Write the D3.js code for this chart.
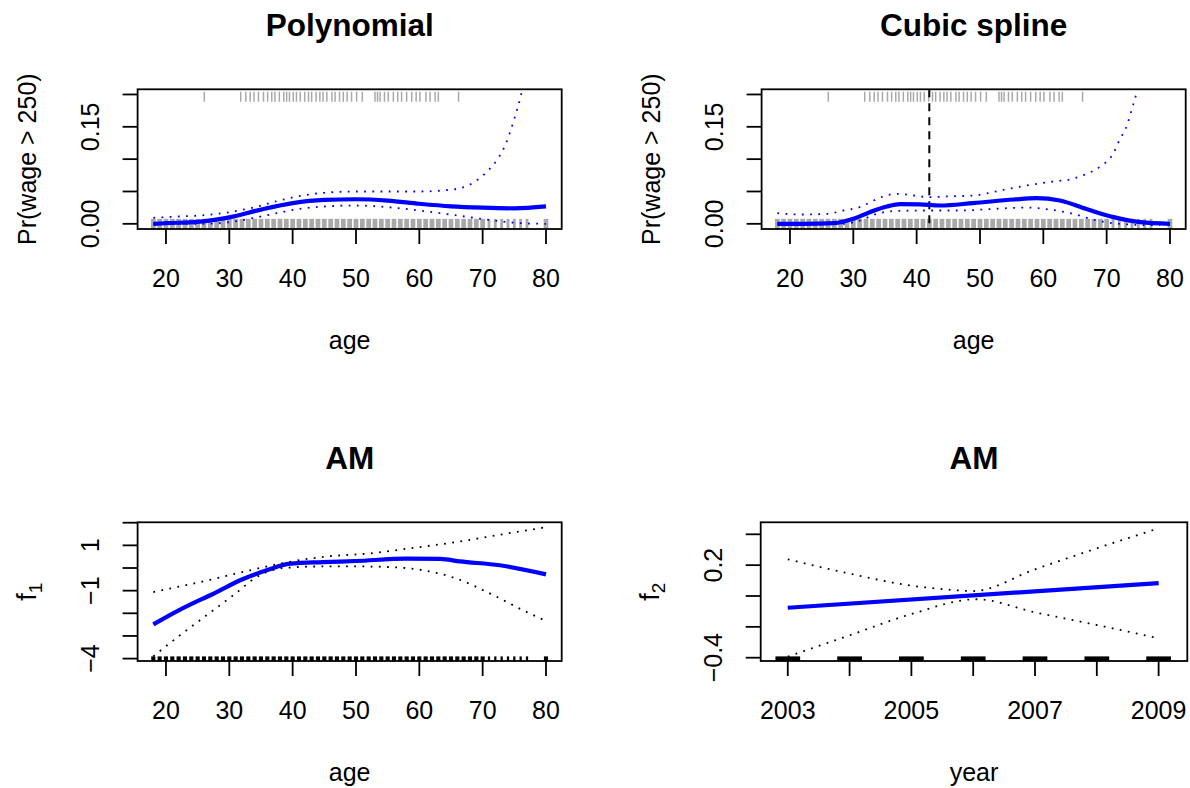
<!DOCTYPE html>
<html>
<head>
<meta charset="utf-8">
<script src="https://cdn.jsdelivr.net/npm/d3@7"></script>
<style>
  body { margin: 0; background: #fff; }
  svg text { font-family: "Liberation Sans", Arial, Helvetica, sans-serif; fill: #000; }
</style>
</head>
<body>
<div id="chart"></div>
<script>
// ---- data ----
// polynomial logistic fit, Pr(wage > 250)
const polyAge = [18, 20, 25, 30, 35, 40, 45, 50, 55, 60, 65, 70, 75, 80];
const polyFit = [0.000, 0.001, 0.003, 0.010, 0.022, 0.032, 0.037, 0.038, 0.036, 0.031, 0.027, 0.025, 0.024, 0.027];
const polyUpAge = [18, 22, 26, 30, 34, 37.5, 41, 45, 50, 55, 60, 64.8, 67, 68.5, 70.4, 72.2, 73.5, 74.8, 75.6, 76.2, 77, 78];
const polyUp = [0.0093, 0.0113, 0.0133, 0.018, 0.0257, 0.035, 0.0428, 0.048, 0.050, 0.050, 0.050, 0.0526, 0.0567, 0.0635, 0.078, 0.098, 0.12, 0.156, 0.182, 0.205, 0.24, 0.29];
const polyLoAge = [18, 26, 30, 34, 37.5, 41, 45, 50, 55, 60, 66, 71, 76, 80];
const polyLo = [0, 0, 0.0025, 0.0093, 0.0165, 0.023, 0.0268, 0.0283, 0.0257, 0.0206, 0.0129, 0.0062, 0.001, 0];

// cubic spline fit
const splAge = [18, 22, 27, 30, 32.6, 35.3, 37.4, 40.5, 43.7, 48.9, 55.3, 58.9, 62.6, 66.8, 71.1, 75.3, 80];
const splFit = [0, 0, 0.001, 0.0077, 0.018, 0.0268, 0.0304, 0.030, 0.0283, 0.032, 0.0376, 0.0397, 0.036, 0.023, 0.0103, 0.0025, 0];
const splUpAge = [18, 22, 26, 28.4, 31, 33.2, 34.7, 36.8, 39.5, 42, 44.7, 49, 53.7, 57.4, 61.6, 64.2, 66.6, 69, 71, 72, 73.2, 74, 74.7, 75.5, 77];
const splUp = [0.0165, 0.0144, 0.0155, 0.0206, 0.0257, 0.036, 0.0423, 0.0464, 0.0438, 0.0412, 0.0423, 0.0438, 0.0526, 0.0593, 0.0655, 0.0686, 0.0763, 0.0887, 0.108, 0.129, 0.152, 0.178, 0.202, 0.24, 0.35];
const splLoAge = [18, 28.4, 31, 33.7, 36.3, 41.6, 46.8, 52, 57.4, 60.5, 64.7, 68, 72, 77, 80];
const splLo = [0, 0, 0.005, 0.0155, 0.0196, 0.0206, 0.0206, 0.023, 0.0252, 0.0226, 0.0155, 0.0062, 0, -0.002, 0];
const knotAge = 42;

// GAM term for age
const amAge = [18, 22, 28, 31.7, 35.9, 39.6, 44.8, 50, 58, 63.3, 66.4, 72.7, 80];
const amFit = [-2.49, -1.87, -1.06, -0.54, -0.10, 0.19, 0.26, 0.31, 0.41, 0.40, 0.29, 0.12, -0.28];
const amUpAge = [18, 25.4, 33.3, 38.5, 44.8, 52.7, 58, 65.9, 73.8, 80];
const amUp = [-1.06, -0.62, -0.10, 0.22, 0.49, 0.66, 0.85, 1.15, 1.52, 1.80];
const amLoAge = [18, 22.2, 26.4, 30.6, 34.8, 39, 44.8, 50, 55.4, 60.6, 65.9, 71.2, 76.4, 80];
const amLo = [-3.90, -2.97, -2.09, -1.21, -0.32, 0.01, 0.07, 0.07, 0.04, -0.10, -0.47, -1.13, -1.87, -2.34];

// GAM term for year
const yrFitYear = [2003, 2009];
const yrFit = [-0.076, 0.084];
const yrUpYear = [2003, 2004, 2005, 2005.5, 2006, 2007, 2008, 2009];
const yrUp = [0.238, 0.145, 0.067, 0.045, 0.032, 0.173, 0.309, 0.439];
const yrLoYear = [2003, 2004, 2005, 2006.05, 2007, 2008, 2009];
const yrLo = [-0.393, -0.255, -0.117, -0.021, -0.106, -0.188, -0.274];

// rugs
const rugAges = [18, 19, 20, 21, 22, 23, 24, 25, 26, 27, 28, 29, 30, 31, 32, 33, 34, 35, 36, 37, 38, 39, 40,
  41, 42, 43, 44, 45, 46, 47, 48, 49, 50, 51, 52, 53, 54, 55, 56, 57, 58, 59, 60, 61, 62, 63, 64, 65, 66,
  67, 68, 69, 70, 71, 72, 73, 74, 75, 76, 77, 80];
const thinRugAges = [71, 72, 73, 74, 75, 76, 77];
const highWageAges = [26.05, 31.8, 32.6, 33.3, 33.9, 34.6, 35.4, 36.05, 36.7, 37.2, 37.9, 38.6, 39.05, 39.5,
  40.1, 40.6, 41.2, 41.9, 42.5, 43, 43.7, 44.3, 44.8, 45.4, 46.2, 46.7, 47.4, 48, 48.6, 49.3, 50.1, 51,
  53, 53.4, 53.8, 54.5, 55.1, 55.9, 56.6, 57.2, 58, 58.8, 59.5, 60.1, 61.05, 61.7, 62.5, 63, 66.2];
const rugYears = [2003, 2004, 2005, 2006, 2007, 2008, 2009];

// axis ticks and labels
const ageTicks = [20, 30, 40, 50, 60, 70, 80];
const probTicks = [0, 0.05, 0.10, 0.15, 0.20];
const probLabels = [[0, "0.00"], [0.15, "0.15"]];
const f1Ticks = [-4, -3, -2, -1, 0, 1, 2];
const f1Labels = [[-4, "\u22124"], [-1, "\u22121"], [1, "1"]];
const yearTicks = [2003, 2004, 2005, 2006, 2007, 2008, 2009];
const yearLabels = [[2003, "2003"], [2005, "2005"], [2007, "2007"], [2009, "2009"]];
const f2Ticks = [-0.4, -0.2, 0, 0.2, 0.4];
const f2Labels = [[-0.4, "\u22120.4"], [0.2, "0.2"]];

// ---- drawing ----
const W = 1190, H = 788;
const svg = d3.select("#chart").append("svg").attr("width", W).attr("height", H);
const FS = 25, TICK = 15;

function zip(a, b) { return a.map((v, i) => [v, b[i]]); }

function panel(o) {
  const x = d3.scaleLinear().domain(o.xDomain).range([o.left, o.right]);
  const y = d3.scaleLinear().domain(o.yDomain).range([o.bottom, o.top]);
  svg.append("clipPath").attr("id", "clip" + o.id)
    .append("rect").attr("x", o.left).attr("y", o.top)
    .attr("width", o.right - o.left).attr("height", o.bottom - o.top);
  const g = svg.append("g");
  const inner = g.append("g").attr("clip-path", "url(#clip" + o.id + ")");

  // box
  g.append("rect").attr("x", o.left).attr("y", o.top)
    .attr("width", o.right - o.left).attr("height", o.bottom - o.top)
    .attr("fill", "none").attr("stroke", "#000").attr("stroke-width", 1.8);

  // x ticks
  g.selectAll(null).data(o.xTicks).enter().append("line")
    .attr("x1", d => x(d)).attr("x2", d => x(d))
    .attr("y1", o.bottom).attr("y2", o.bottom + TICK)
    .attr("stroke", "#000").attr("stroke-width", 1.8);
  g.selectAll(null).data(o.xLabels).enter().append("text")
    .attr("x", d => x(d[0])).attr("y", o.bottom + 58.3)
    .attr("text-anchor", "middle").attr("font-size", FS).text(d => d[1]);

  // y ticks
  g.selectAll(null).data(o.yTicks).enter().append("line")
    .attr("x1", o.left).attr("x2", o.left - TICK)
    .attr("y1", d => y(d)).attr("y2", d => y(d))
    .attr("stroke", "#000").attr("stroke-width", 1.8);
  g.selectAll(null).data(o.yLabels).enter().append("text")
    .attr("transform", d => `translate(${o.left - 38.5},${y(d[0])}) rotate(-90)`)
    .attr("text-anchor", "middle").attr("font-size", FS).text(d => d[1]);

  // title and axis labels
  const cx = (o.left + o.right) / 2;
  g.append("text").attr("x", cx).attr("y", o.top - 53.5)
    .attr("text-anchor", "middle").attr("font-size", 31.5).attr("font-weight", "bold").text(o.title);
  g.append("text").attr("x", cx).attr("y", o.bottom + 120)
    .attr("text-anchor", "middle").attr("font-size", FS).text(o.xTitle);
  const yl = g.append("text")
    .attr("transform", `translate(${o.left - 101.5},${(o.top + o.bottom) / 2}) rotate(-90)`)
    .attr("text-anchor", "middle").attr("font-size", FS);
  if (o.ySub) {
    yl.append("tspan").attr("font-size", 27).text(o.yTitle);
    yl.append("tspan").attr("font-size", 19).attr("dy", 6).text(o.ySub);
  } else {
    yl.text(o.yTitle);
  }
  return { x, y, inner };
}

const solid = (c) => (s) => s.attr("fill", "none").attr("stroke", c).attr("stroke-width", 4.2).attr("stroke-linejoin", "round");
const dotted = (c) => (s) => s.attr("fill", "none").attr("stroke", c).attr("stroke-width", 1.8).attr("stroke-dasharray", "1.8,6.4");

function curve(p, xs, ys, style, kind) {
  const line = d3.line().x(d => p.x(d[0])).y(d => p.y(d[1]))
    .curve(kind || d3.curveMonotoneX);
  p.inner.append("path").attr("d", line(zip(xs, ys))).call(style);
}

const row1 = { top: 89.3, bottom: 229 };
const row2 = { top: 522.3, bottom: 661 };

// ---- Polynomial ----
const pA = panel({
  id: "a", title: "Polynomial", xTitle: "age", yTitle: "Pr(wage > 250)",
  left: 137.6, right: 561.7, ...row1,
  xDomain: [15.52, 82.48], yDomain: [-0.008, 0.208],
  xTicks: ageTicks, xLabels: ageTicks.map(d => [d, String(d)]),
  yTicks: probTicks, yLabels: probLabels
});
// ---- Cubic spline ----
const pB = panel({
  id: "b", title: "Cubic spline", xTitle: "age", yTitle: "Pr(wage > 250)",
  left: 761.6, right: 1185.7, ...row1,
  xDomain: [15.52, 82.48], yDomain: [-0.008, 0.208],
  xTicks: ageTicks, xLabels: ageTicks.map(d => [d, String(d)]),
  yTicks: probTicks, yLabels: probLabels
});

[pA, pB].forEach(p => {
  // rug of all ages at y = 0
  const yc0 = p.y(0) + 1;
  p.inner.selectAll(null).data(rugAges).enter().append("rect")
    .attr("x", d => { const w = thinRugAges.includes(d) ? 0.05 : 0.2; return p.x(d - w) - 1.1; })
    .attr("width", d => { const w = thinRugAges.includes(d) ? 0.05 : 0.2; return p.x(d + w) - p.x(d - w) + 2.2; })
    .attr("y", yc0 - 6).attr("height", 12).attr("fill", "#a9a9a9");
  // high earners at y = 0.2
  const yc1 = p.y(0.2) + 2.4;
  p.inner.selectAll(null).data(highWageAges).enter().append("line")
    .attr("x1", d => p.x(d)).attr("x2", d => p.x(d))
    .attr("y1", yc1 - 5).attr("y2", yc1 + 5)
    .attr("stroke", "#a9a9a9").attr("stroke-width", 1.5);
});

curve(pA, polyAge, polyFit, solid("#0000ff"));
curve(pA, polyUpAge, polyUp, dotted("#0000ff"));
curve(pA, polyLoAge, polyLo, dotted("#0000ff"));

pB.inner.append("line")
  .attr("x1", pB.x(knotAge)).attr("x2", pB.x(knotAge))
  .attr("y1", row1.top).attr("y2", row1.bottom)
  .attr("stroke", "#000").attr("stroke-width", 2).attr("stroke-dasharray", "8,6");
curve(pB, splAge, splFit, solid("#0000ff"));
curve(pB, splUpAge, splUp, dotted("#0000ff"));
curve(pB, splLoAge, splLo, dotted("#0000ff"));

// ---- AM: age ----
const pC = panel({
  id: "c", title: "AM", xTitle: "age", yTitle: "f", ySub: "1",
  left: 137.6, right: 561.7, ...row2,
  xDomain: [15.52, 82.48], yDomain: [-4.106, 2.018],
  xTicks: ageTicks, xLabels: ageTicks.map(d => [d, String(d)]),
  yTicks: f1Ticks, yLabels: f1Labels
});
pC.inner.selectAll(null).data(rugAges).enter().append("rect")
  .attr("x", d => { const w = thinRugAges.includes(d) ? 0.05 : 0.2; return pC.x(d - w) - 0.8; })
  .attr("width", d => { const w = thinRugAges.includes(d) ? 0.05 : 0.2; return pC.x(d + w) - pC.x(d - w) + 1.6; })
  .attr("y", row2.bottom - 4.6).attr("height", 4.6).attr("fill", "#000");
curve(pC, amAge, amFit, solid("#0000ff"));
curve(pC, amUpAge, amUp, dotted("#000"));
curve(pC, amLoAge, amLo, dotted("#000"));

// ---- AM: year ----
const pD = panel({
  id: "d", title: "AM", xTitle: "year", yTitle: "f", ySub: "2",
  left: 760.7, right: 1187.3, ...row2,
  xDomain: [2002.562, 2009.464], yDomain: [-0.4214, 0.4778],
  xTicks: yearTicks, xLabels: yearLabels,
  yTicks: f2Ticks, yLabels: f2Labels
});
pD.inner.selectAll(null).data(rugYears).enter().append("rect")
  .attr("x", d => pD.x(d - 0.2)).attr("width", d => pD.x(d + 0.2) - pD.x(d - 0.2))
  .attr("y", row2.bottom - 4.6).attr("height", 4.6).attr("fill", "#000");
curve(pD, yrFitYear, yrFit, solid("#0000ff"), d3.curveLinear);
curve(pD, yrUpYear, yrUp, dotted("#000"));
curve(pD, yrLoYear, yrLo, dotted("#000"));
</script>
</body>
</html>
